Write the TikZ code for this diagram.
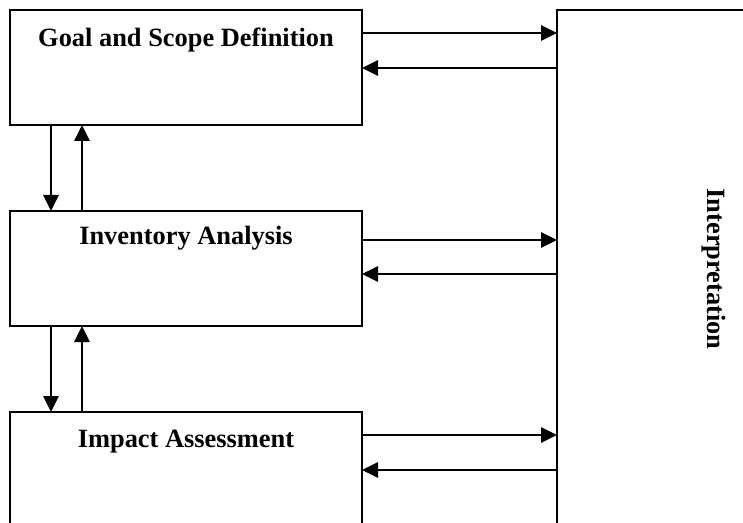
\documentclass[tikz,border=0pt]{standalone}
\usepackage{fontspec}
\setmainfont{Liberation Serif}
\usetikzlibrary{arrows.meta,calc}
\begin{document}
\begin{tikzpicture}[x=0.5pt,y=-0.5pt,
  box/.style={draw, line width=1pt, inner sep=0pt, outer sep=0pt, minimum width=176pt},
  lbl/.style={font=\fontsize{13.2}{16}\selectfont\bfseries, anchor=base, inner sep=0pt},
  arr/.style={line width=1.4pt, -{Triangle[length=8pt,width=7.5pt]}}]
\useasboundingbox (0,0) rectangle (743,523);
\clip (0,0) rectangle (743,523);
% boxes
\node[box, minimum height=57.5pt, anchor=north west] (goal) at (10,10) {};
\node[box, minimum height=57.5pt, anchor=north west] (inv) at (10,211) {};
\node[box, minimum height=66pt, anchor=north west] (imp) at (10,412) {};
\node[draw, line width=1pt, inner sep=0pt, outer sep=0pt, minimum width=160pt, minimum height=270pt, anchor=north west] (interp) at (557,10) {};
% labels
\node[lbl] (goaltxt) at ($(goal.north)+(0,37)$) {Goal and Scope Definition};
\node[lbl] (invtxt) at ($(inv.north)+(0,34)$) {Inventory Analysis};
\node[lbl] (imptxt) at ($(imp.north)+(0,35)$) {Impact Assessment};
\node[lbl, rotate=-90] (interptxt) at (707,269) {Interpretation};
% horizontal arrows
\draw[arr] ($(goal.north east)+(0,23)$) -- ($(interp.north west)+(0,23)$);
\draw[arr] ($(interp.north west)+(0,58)$) -- ($(goal.north east)+(0,58)$);
\draw[arr] ($(inv.north east)+(0,29)$) -- (interp.west |- {$(inv.north east)+(0,29)$});
\draw[arr] (interp.west |- {$(inv.north east)+(0,63)$}) -- ($(inv.north east)+(0,63)$);
\draw[arr] ($(imp.north east)+(0,23)$) -- (interp.west |- {$(imp.north east)+(0,23)$});
\draw[arr] (interp.west |- {$(imp.north east)+(0,58)$}) -- ($(imp.north east)+(0,58)$);
% vertical arrows
\draw[arr] (goal.south west -| 51,0) -- (inv.north west -| 51,0);
\draw[arr] (inv.north west -| 82,0) -- (goal.south west -| 82,0);
\draw[arr] (inv.south west -| 51,0) -- (imp.north west -| 51,0);
\draw[arr] (imp.north west -| 82,0) -- (inv.south west -| 82,0);
\end{tikzpicture}
\end{document}
